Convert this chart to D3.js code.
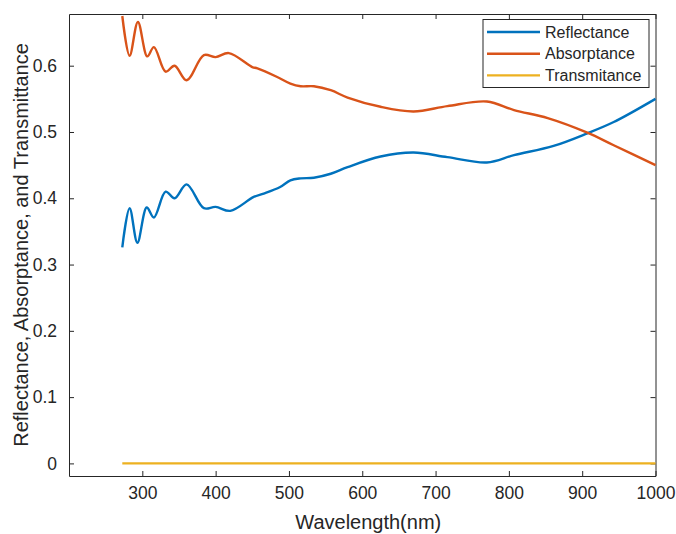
<!DOCTYPE html>
<html>
<head>
<meta charset="utf-8">
<script src="https://cdn.jsdelivr.net/npm/d3@7"></script>
<style>
  body { margin: 0; background: #fff; }
  svg text { font-family: "Liberation Sans", Arial, sans-serif; fill: #262626; }
</style>
</head>
<body>
<div id="chart"></div>
<script>
// wavelengths (nm) and values
const reflWave = [272.7, 282.7, 293.3, 306, 315.8, 331.8, 344, 360.4, 384, 400, 420, 452, 465.6, 488, 502, 516, 534, 557, 580, 625, 670, 716, 770, 807, 861, 907, 943, 1000];
const reflectance = [0.326, 0.385, 0.333, 0.386, 0.371, 0.410, 0.400, 0.421, 0.385, 0.387, 0.381, 0.402, 0.407, 0.417, 0.427, 0.430, 0.431, 0.437, 0.447, 0.463, 0.469, 0.462, 0.454, 0.465, 0.479, 0.498, 0.515, 0.550];

const absWave = [272.7, 282.7, 294, 306.8, 315.8, 331.8, 344, 360.4, 384, 400, 418, 450, 457, 484, 502, 516, 534, 557, 580, 625, 670, 716, 770, 807, 853, 907, 943, 1000];
const absorptance = [0.675, 0.615, 0.666, 0.614, 0.628, 0.591, 0.600, 0.578, 0.616, 0.613, 0.619, 0.598, 0.596, 0.583, 0.573, 0.569, 0.569, 0.563, 0.552, 0.538, 0.531, 0.539, 0.546, 0.533, 0.521, 0.499, 0.480, 0.450];

const transWave = [272.7, 1000];
const transmitance = [0, 0];

const seriesNames = ['Reflectance', 'Absorptance', 'Transmitance'];
const seriesColors = ['#0072BD', '#D95319', '#EDB120'];

const xTicks = [300, 400, 500, 600, 700, 800, 900, 1000];
const yTicks = [0, 0.1, 0.2, 0.3, 0.4, 0.5, 0.6];

const width = 676, height = 534;
const margin = { top: 14, right: 20.5, bottom: 58, left: 69 };
const axisColor = '#262626';

const svg = d3.select('#chart').append('svg')
  .attr('width', width)
  .attr('height', height);

const x = d3.scaleLinear()
  .domain([200, 1000])
  .range([margin.left, width - margin.right]);

const y = d3.scaleLinear()
  .domain([-0.019, 0.678])
  .range([height - margin.bottom, margin.top]);

const plotW = width - margin.left - margin.right;
const plotH = height - margin.top - margin.bottom;

// axes box with inward ticks on all sides (matlab style)
const fmt = d => d3.format('.1f')(d).replace(/^0\.0$/, '0').replace(/^(\d+)\.0$/, '$1');

svg.append('g')
  .attr('transform', `translate(0,${height - margin.bottom})`)
  .call(d3.axisBottom(x).tickValues(xTicks).tickSizeInner(-5).tickSizeOuter(0).tickPadding(11).tickFormat(d3.format('d')))
  .call(g => g.selectAll('text').style('font-size', '17.5px').attr('fill', axisColor));

svg.append('g')
  .attr('transform', `translate(0,${margin.top})`)
  .call(d3.axisTop(x).tickValues(xTicks).tickSizeInner(-5).tickSizeOuter(0).tickFormat(''));

svg.append('g')
  .attr('transform', `translate(${margin.left},0)`)
  .call(d3.axisLeft(y).tickValues(yTicks).tickSizeInner(-5).tickSizeOuter(0).tickPadding(12)
    .tickFormat(d => d === 0 ? '0' : d3.format('.1f')(d)))
  .call(g => g.selectAll('text').style('font-size', '17.5px').attr('fill', axisColor));

svg.append('g')
  .attr('transform', `translate(${width - margin.right},0)`)
  .call(d3.axisRight(y).tickValues(yTicks).tickSizeInner(-5).tickSizeOuter(0).tickFormat(''));

svg.selectAll('.domain, .tick line').attr('stroke', axisColor).attr('stroke-width', 1);

// lines
const series = [
  { wave: reflWave, vals: reflectance },
  { wave: absWave, vals: absorptance },
  { wave: transWave, vals: transmitance }
];

const line = d3.line()
  .x(d => x(d[0]))
  .y(d => y(d[1]))
  .curve(d3.curveCatmullRom.alpha(0.5));

series.forEach((s, i) => {
  svg.append('path')
    .datum(d3.zip(s.wave, s.vals))
    .attr('fill', 'none')
    .attr('stroke', seriesColors[i])
    .attr('stroke-width', 2.4)
    .attr('stroke-linejoin', 'round')
    .attr('d', line);
});

// axis labels
svg.append('text')
  .attr('x', margin.left + plotW / 2 + 6)
  .attr('y', 529)
  .attr('text-anchor', 'middle')
  .style('font-size', '20px')
  .text('Wavelength(nm)');

svg.append('text')
  .attr('transform', `translate(28,${margin.top + plotH / 2}) rotate(-90)`)
  .attr('text-anchor', 'middle')
  .style('font-size', '20px')
  .text('Reflectance, Absorptance, and Transmittance');

// legend
const legend = svg.append('g').attr('transform', 'translate(483,19.5)');
legend.append('rect')
  .attr('width', 166)
  .attr('height', 68)
  .attr('fill', '#fff')
  .attr('stroke', axisColor)
  .attr('stroke-width', 1);

seriesNames.forEach((name, i) => {
  const row = legend.append('g').attr('transform', `translate(0,${12.5 + i * 21.7})`);
  row.append('line')
    .attr('x1', 4).attr('x2', 57)
    .attr('stroke', seriesColors[i])
    .attr('stroke-width', 2.4);
  row.append('text')
    .attr('x', 62)
    .attr('dy', '0.35em')
    .style('font-size', '16px')
    .text(name);
});
</script>
</body>
</html>
